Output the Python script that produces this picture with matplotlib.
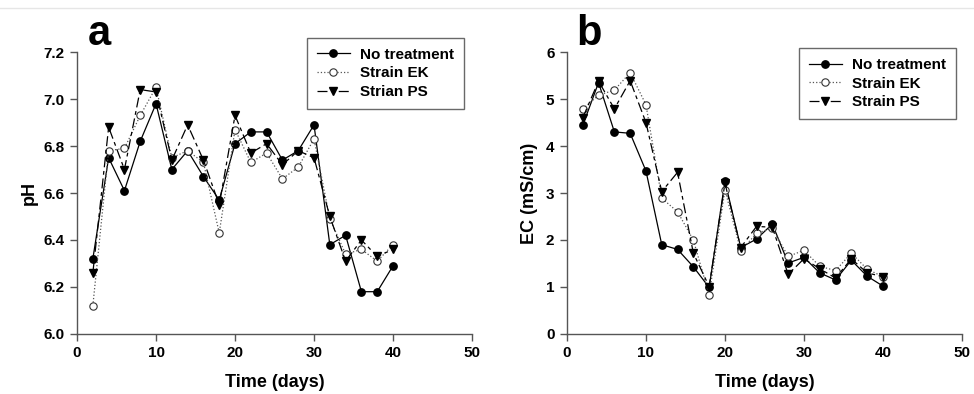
import matplotlib
matplotlib.use("Agg")
import matplotlib.pyplot as plt
from matplotlib.lines import Line2D

plt.rcParams['font.family'] = ['Liberation Sans', 'DejaVu Sans']
plt.rcParams['font.weight'] = 'bold'

days = [2, 4, 6, 8, 10, 12, 14, 16, 18, 20, 22, 24, 26, 28, 30, 32, 34, 36, 38, 40]

# pH (panel a)
ph_none = [6.32, 6.75, 6.61, 6.82, 6.98, 6.70, 6.78, 6.67, 6.57, 6.81,
           6.86, 6.86, 6.74, 6.78, 6.89, 6.38, 6.42, 6.18, 6.18, 6.29]
ph_ek = [6.12, 6.78, 6.79, 6.93, 7.05, 6.75, 6.78, 6.73, 6.43, 6.87,
         6.73, 6.77, 6.66, 6.71, 6.83, 6.49, 6.34, 6.36, 6.31, 6.38]
ph_ps = [6.26, 6.88, 6.70, 7.04, 7.03, 6.74, 6.89, 6.74, 6.55, 6.93,
         6.77, 6.81, 6.72, 6.78, 6.75, 6.50, 6.31, 6.40, 6.33, 6.36]

# EC (panel b)
ec_none = [4.44, 5.35, 4.30, 4.27, 3.47, 1.90, 1.80, 1.43, 0.99, 3.25,
           1.84, 2.02, 2.34, 1.51, 1.63, 1.30, 1.15, 1.57, 1.23, 1.02]
ec_ek = [4.79, 5.08, 5.19, 5.56, 4.88, 2.89, 2.60, 2.00, 0.83, 3.07,
         1.77, 2.14, 2.25, 1.65, 1.78, 1.44, 1.35, 1.72, 1.38, 1.22]
ec_ps = [4.60, 5.38, 4.79, 5.39, 4.50, 3.03, 3.44, 1.72, 1.01, 3.21,
         1.84, 2.29, 2.27, 1.27, 1.60, 1.39, 1.19, 1.60, 1.30, 1.22]

labels_a = ['No treatment', 'Strain EK', 'Strian PS']
labels_b = ['No treatment', 'Strain EK', 'Strain PS']


def draw(ax, series, labels, ylim, yticks, ylabel, yfmt, leg_anchor, ylabelpad):
    s1, s2, s3 = series
    ax.plot(days, s1, color='black', lw=0.9, marker='o', ms=5.3,
            mfc='black', mec='black', label=labels[0])
    ax.plot(days, s2, color='#555555', lw=0.9, ls=':', marker='o', ms=5.3,
            mfc='white', mec='#333333', mew=0.8, label=labels[1])
    ax.plot(days, s3, color='black', lw=0.9, dashes=[8, 3, 3, 3], marker='v',
            ms=6, mfc='black', mec='black', label=labels[2])
    ax.set_xlim(0, 50)
    ax.set_ylim(*ylim)
    ax.set_xticks([0, 10, 20, 30, 40, 50])
    ax.set_yticks(yticks)
    ax.set_yticklabels([yfmt.format(v) for v in yticks])
    for side in ('top', 'right'):
        ax.spines[side].set_visible(False)
    for side in ('left', 'bottom'):
        ax.spines[side].set_color('#555555')
        ax.spines[side].set_linewidth(1.0)
    ax.tick_params(direction='out', length=5, width=1, color='#555555',
                   labelsize=11, pad=4)
    for t in ax.get_xticklabels() + ax.get_yticklabels():
        t.set_fontweight('bold')
    ax.set_xlabel('Time (days)', fontsize=13, fontweight='bold', labelpad=10)
    ax.set_ylabel(ylabel, fontsize=13, fontweight='bold', labelpad=ylabelpad)
    leg = ax.legend(loc='upper right', bbox_to_anchor=leg_anchor,
                    borderaxespad=0, frameon=True, fancybox=False,
                    edgecolor='#444444', fontsize=11, handlelength=2.2,
                    borderpad=0.65, labelspacing=0.3, handletextpad=0.65)
    leg.get_frame().set_linewidth(1.0)
    for t in leg.get_texts():
        t.set_fontweight('bold')


fig = plt.figure(figsize=(9.74, 3.94), dpi=100)
ax1 = fig.add_axes([0.0791, 0.1523, 0.4055, 0.7157])
ax2 = fig.add_axes([0.5821, 0.1523, 0.4055, 0.7157])

draw(ax1, (ph_none, ph_ek, ph_ps), labels_a, (6.0, 7.2),
     [6.0, 6.2, 6.4, 6.6, 6.8, 7.0, 7.2], 'pH', '{:.1f}', (0.980, 1.050), 4)
draw(ax2, (ec_none, ec_ek, ec_ps), labels_b, (0, 6),
     [0, 1, 2, 3, 4, 5, 6], 'EC (mS/cm)', '{:.0f}', (0.985, 1.014), 6)

fig.text(0.090, 0.885, 'a', fontsize=30, fontweight='bold')
fig.text(0.592, 0.885, 'b', fontsize=30, fontweight='bold')

fig.add_artist(Line2D([0.0, 1.0], [0.98, 0.98], transform=fig.transFigure,
                      color='#e6e6e6', lw=1))

fig.savefig('out.png', dpi=100)
